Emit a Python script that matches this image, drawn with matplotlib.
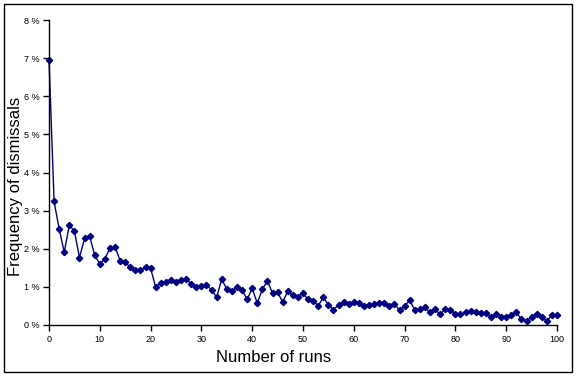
import matplotlib
matplotlib.use("Agg")
import matplotlib.pyplot as plt
from matplotlib.patches import Rectangle
from matplotlib.ticker import FuncFormatter

runs = list(range(0, 101))
freq = [6.96, 3.24, 2.52, 1.91, 2.62, 2.46, 1.77, 2.27, 2.33, 1.83,
        1.60, 1.73, 2.02, 2.05, 1.69, 1.65, 1.51, 1.44, 1.44, 1.51,
        1.49, 0.99, 1.11, 1.13, 1.17, 1.14, 1.17, 1.20, 1.08, 0.99,
        1.01, 1.05, 0.92, 0.73, 1.20, 0.94, 0.89, 0.99, 0.92, 0.67,
        0.96, 0.57, 0.94, 1.16, 0.83, 0.86, 0.60, 0.89, 0.78, 0.74,
        0.83, 0.67, 0.64, 0.50, 0.73, 0.53, 0.40, 0.53, 0.60, 0.56,
        0.60, 0.57, 0.50, 0.52, 0.55, 0.59, 0.59, 0.50, 0.55, 0.39,
        0.50, 0.65, 0.39, 0.43, 0.46, 0.33, 0.41, 0.28, 0.41, 0.39,
        0.30, 0.28, 0.33, 0.37, 0.33, 0.32, 0.32, 0.20, 0.30, 0.22,
        0.22, 0.26, 0.33, 0.15, 0.11, 0.20, 0.28, 0.20, 0.11, 0.25,
        0.26]

W, H = 577, 380
fig = plt.figure(figsize=(W / 100, H / 100), dpi=100)
plt.rcParams['font.family'] = ['Liberation Sans', 'DejaVu Sans']

ax = fig.add_axes([49 / W, 1 - 325 / H, (557 - 49) / W, (325 - 20) / H])
ax.plot(runs, freq, color='#000080', lw=1.0, marker='D', ms=3.2,
        mfc='#000080', mec='#000080', clip_on=False)
ax.set_xlim(0, 100)
ax.set_ylim(0, 8)
ax.set_xticks(range(0, 101, 10))
ax.set_yticks(range(0, 9))
ax.yaxis.set_major_formatter(FuncFormatter(lambda v, p: f"{int(v)} %"))
for s in ['top', 'right']:
    ax.spines[s].set_visible(False)
for s in ['left', 'bottom']:
    ax.spines[s].set_linewidth(1.0)
    ax.spines[s].set_color('black')
ax.tick_params(axis='both', labelsize=6.5, length=4, width=1, direction='out', pad=3)

fig.text(274 / W, 1 - 357 / H, 'Number of runs', fontsize=12,
         ha='center', va='center')
fig.text(16 / W, 1 - 186 / H, 'Frequency of dismissals', fontsize=12,
         ha='center', va='center', rotation=90)

fig.patches.append(Rectangle((4 / W, 1 - 372 / H), (572 - 4) / W, (372 - 4) / H,
                             transform=fig.transFigure, fill=False,
                             edgecolor='black', lw=1.0))
fig.savefig('out.png', dpi=100)
